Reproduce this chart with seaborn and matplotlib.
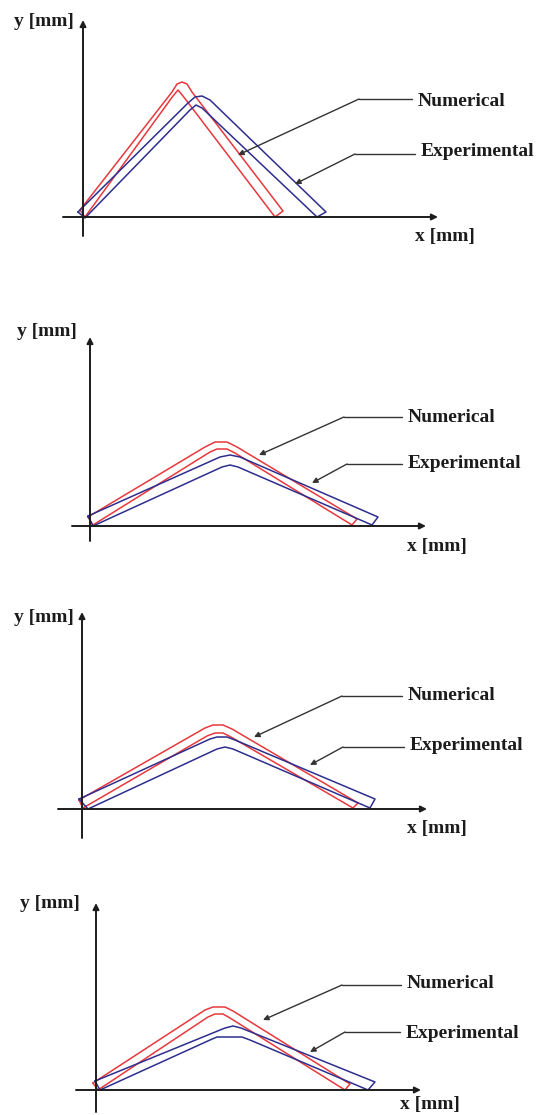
import matplotlib
matplotlib.use("Agg")
import matplotlib.pyplot as plt
import seaborn as sns

sns.set_theme(style="white")
plt.rcParams['font.family'] = ['Liberation Serif', 'DejaVu Serif']

# ---------------- data (x [mm], y [mm]) : outer / inner edges of the bent profiles ----------------
# Panel 1
NUM1_OUT_X = [-3, 89, 94, 99, 104, 109, 200]
NUM1_OUT_Y = [7, 125, 133, 135, 133, 125, 6]
NUM1_IN_X = [2, 90, 95, 100, 192]
NUM1_IN_Y = [0, 121, 127, 121, 0]
EXP1_OUT_X = [-5, 105, 112, 119, 127, 243]
EXP1_OUT_Y = [5, 114, 120, 121, 117, 5]
EXP1_IN_X = [2, 107, 113, 119, 234]
EXP1_IN_Y = [-1, 107, 112, 109, 0]
# Panel 2
NUM2_OUT_X = [-2, 115, 125, 137, 147, 267]
NUM2_OUT_Y = [9, 79, 84, 84, 79, 7]
NUM2_IN_X = [3, 120, 127, 137, 145, 262]
NUM2_IN_Y = [1, 74, 77, 77, 73, 1]
EXP2_OUT_X = [-2, 130, 140, 150, 288]
EXP2_OUT_Y = [10, 69, 71, 69, 9]
EXP2_IN_X = [3, 132, 140, 148, 282]
EXP2_IN_Y = [0, 59, 61, 59, 1]
# Panel 3
NUM3_OUT_X = [-3, 123, 131, 141, 150, 276]
NUM3_OUT_Y = [9, 81, 84, 84, 80, 6]
NUM3_IN_X = [1, 125, 133, 141, 149, 271]
NUM3_IN_Y = [1, 73, 76, 76, 72, 1]
EXP3_OUT_X = [-3, 128, 135, 145, 153, 293]
EXP3_OUT_Y = [10, 70, 72, 72, 69, 10]
EXP3_IN_X = [6, 135, 143, 151, 288]
EXP3_IN_Y = [0, 60, 62, 60, 1]
# Panel 4
NUM4_OUT_X = [-3, 109, 117, 129, 137, 254]
NUM4_OUT_Y = [7, 80, 83, 83, 79, 6]
NUM4_IN_X = [2, 112, 119, 127, 134, 249]
NUM4_IN_Y = [0, 73, 76, 76, 72, 0]
EXP4_OUT_X = [-1, 129, 137, 145, 279]
EXP4_OUT_Y = [9, 62, 64, 62, 8]
EXP4_IN_X = [4, 114, 121, 146, 154, 272]
EXP4_IN_Y = [0, 50, 53, 53, 50, 0]

SERIES_LABELS = ["Numerical", "Experimental"]
X_LABEL = "x [mm]"
Y_LABEL = "y [mm]"

SHAPES = [
    [(NUM1_OUT_X, NUM1_OUT_Y, NUM1_IN_X, NUM1_IN_Y), (EXP1_OUT_X, EXP1_OUT_Y, EXP1_IN_X, EXP1_IN_Y)],
    [(NUM2_OUT_X, NUM2_OUT_Y, NUM2_IN_X, NUM2_IN_Y), (EXP2_OUT_X, EXP2_OUT_Y, EXP2_IN_X, EXP2_IN_Y)],
    [(NUM3_OUT_X, NUM3_OUT_Y, NUM3_IN_X, NUM3_IN_Y), (EXP3_OUT_X, EXP3_OUT_Y, EXP3_IN_X, EXP3_IN_Y)],
    [(NUM4_OUT_X, NUM4_OUT_Y, NUM4_IN_X, NUM4_IN_Y), (EXP4_OUT_X, EXP4_OUT_Y, EXP4_IN_X, EXP4_IN_Y)],
]

# ---------------- layout (figure pixels) ----------------
W, H = 536, 1115
LAYOUT = [
    dict(origin=(83, 217), band=(0, 272), ytop=20, ybot=236, xleft=63, xright=438,
         ylab=(14, 22), xlab=(415, 237),
         num_txt=(418, 101), num_corner=(359, 99), num_tip=(238, 155),
         exp_txt=(421, 152), exp_corner=(355, 154), exp_tip=(295, 184)),
    dict(origin=(90, 526), band=(272, 576), ytop=337, ybot=541, xleft=72, xright=426,
         ylab=(17, 332), xlab=(407, 546),
         num_txt=(408, 417), num_corner=(344, 417), num_tip=(259, 455),
         exp_txt=(408, 464), exp_corner=(347, 464), exp_tip=(312, 483)),
    dict(origin=(82, 809), band=(576, 862), ytop=612, ybot=838, xleft=58, xright=427,
         ylab=(14, 618), xlab=(407, 828),
         num_txt=(408, 696), num_corner=(342, 696), num_tip=(254, 737),
         exp_txt=(410, 746), exp_corner=(343, 747), exp_tip=(310, 765)),
    dict(origin=(96, 1090), band=(862, 1115), ytop=903, ybot=1112, xleft=76, xright=421,
         ylab=(20, 903), xlab=(400, 1105),
         num_txt=(407, 984), num_corner=(342, 985), num_tip=(263, 1020),
         exp_txt=(406, 1033), exp_corner=(345, 1032), exp_tip=(310, 1052)),
]

COLORS = ["#e8383c", "#2e2e8e"]
INK = "#1c1c1c"

fig = plt.figure(figsize=(W / 100, H / 100), dpi=100)

for shapes, L in zip(SHAPES, LAYOUT):
    ox, oy = L["origin"]
    top, bot = L["band"]
    ax = fig.add_axes([0, 1 - bot / H, 1, (bot - top) / H])
    ax.set_xlim(-ox, W - ox)
    ax.set_ylim(oy - bot, oy - top)
    ax.set_axis_off()
    ax.patch.set_alpha(0)

    def P(px, py):
        return (px - ox, oy - py)

    # coordinate axes with arrows
    arrow_kw = dict(arrowstyle="-|>", color=INK, lw=1.4, mutation_scale=9, shrinkA=0, shrinkB=0)
    ax.annotate("", xy=P(ox, L["ytop"]), xytext=P(ox, L["ybot"]), arrowprops=arrow_kw,
                annotation_clip=False)
    ax.annotate("", xy=P(L["xright"], oy), xytext=P(L["xleft"], oy), arrowprops=arrow_kw,
                annotation_clip=False)

    # profiles
    for (xo, yo, xi, yi), col in zip(shapes, COLORS):
        xs = list(xo) + list(xi)[::-1] + [xo[0]]
        ys = list(yo) + list(yi)[::-1] + [yo[0]]
        sns.lineplot(x=xs, y=ys, sort=False, estimator=None, color=col, lw=1.1, ax=ax)

    # labels
    tkw = dict(fontsize=14, fontweight="bold", color=INK, va="center", ha="left")
    ax.text(*P(*L["ylab"]), Y_LABEL, **tkw)
    ax.text(*P(*L["xlab"]), X_LABEL, **tkw)

    # leader lines
    lead_kw = dict(arrowstyle="-|>", color="#333333", lw=1.0, mutation_scale=8,
                   shrinkA=0, shrinkB=0)
    for key, label in zip(["num", "exp"], SERIES_LABELS):
        tx, ty = L[key + "_txt"]
        cx, cy = L[key + "_corner"]
        hx0, hy0 = P(cx, cy)
        hx1, _ = P(tx - 6, cy)
        ax.plot([hx0, hx1], [hy0, hy0], color="#333333", lw=1.0)
        ax.annotate("", xy=P(*L[key + "_tip"]), xytext=(hx0, hy0), arrowprops=lead_kw,
                    annotation_clip=False)
        ax.text(*P(tx, ty), label, **tkw)

fig.savefig("out.png", dpi=100, facecolor="white")
